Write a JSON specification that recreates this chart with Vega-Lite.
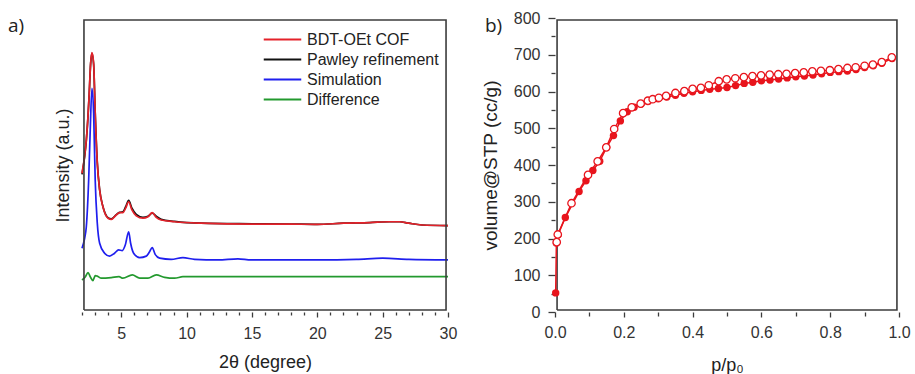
{
  "$schema": "https://vega.github.io/schema/vega-lite/v6.json",
  "autosize": {"type": "pad"},
  "padding": {"left": 8, "top": 10, "right": 0, "bottom": 0},
  "spacing": 24,
  "config": {
    "font": "Liberation Sans",
    "view": {"stroke": null},
    "axis": {
      "domain": false, "grid": false,
      "labelColor": "#333333", "labelFontSize": 16, "labelFont": "Liberation Sans",
      "titleColor": "#222222", "titleFontSize": 18, "titleFontWeight": "normal", "titleFont": "Liberation Sans",
      "tickColor": "#3c3c3c", "tickWidth": 1.3, "labelFlush": false, "labelOverlap": false
    },
    "title": {"fontWeight": "normal", "color": "#222222", "font": "Open Sans", "fontSize": 19}
  },
  "datasets": {
    "xrd": [
      {"t": 2.0, "i": 46.8, "s": "Pawley refinement"},
      {"t": 2.2, "i": 52.8, "s": "Pawley refinement"},
      {"t": 2.33, "i": 58.3, "s": "Pawley refinement"},
      {"t": 2.45, "i": 65.8, "s": "Pawley refinement"},
      {"t": 2.54, "i": 73.0, "s": "Pawley refinement"},
      {"t": 2.66, "i": 84.4, "s": "Pawley refinement"},
      {"t": 2.76, "i": 88.0, "s": "Pawley refinement"},
      {"t": 2.89, "i": 84.2, "s": "Pawley refinement"},
      {"t": 3.01, "i": 67.8, "s": "Pawley refinement"},
      {"t": 3.17, "i": 50.9, "s": "Pawley refinement"},
      {"t": 3.35, "i": 41.6, "s": "Pawley refinement"},
      {"t": 3.6, "i": 35.9, "s": "Pawley refinement"},
      {"t": 3.99, "i": 32.1, "s": "Pawley refinement"},
      {"t": 4.24, "i": 31.7, "s": "Pawley refinement"},
      {"t": 4.62, "i": 33.1, "s": "Pawley refinement"},
      {"t": 4.88, "i": 33.9, "s": "Pawley refinement"},
      {"t": 5.13, "i": 34.1, "s": "Pawley refinement"},
      {"t": 5.34, "i": 35.8, "s": "Pawley refinement"},
      {"t": 5.57, "i": 38.0, "s": "Pawley refinement"},
      {"t": 5.82, "i": 35.3, "s": "Pawley refinement"},
      {"t": 6.15, "i": 33.2, "s": "Pawley refinement"},
      {"t": 6.66, "i": 32.2, "s": "Pawley refinement"},
      {"t": 7.05, "i": 32.6, "s": "Pawley refinement"},
      {"t": 7.37, "i": 33.6, "s": "Pawley refinement"},
      {"t": 7.68, "i": 32.6, "s": "Pawley refinement"},
      {"t": 8.06, "i": 31.5, "s": "Pawley refinement"},
      {"t": 9.08, "i": 30.8, "s": "Pawley refinement"},
      {"t": 11.12, "i": 30.2, "s": "Pawley refinement"},
      {"t": 15, "i": 30.0, "s": "Pawley refinement"},
      {"t": 18, "i": 29.9, "s": "Pawley refinement"},
      {"t": 20, "i": 29.8, "s": "Pawley refinement"},
      {"t": 22, "i": 30.2, "s": "Pawley refinement"},
      {"t": 24, "i": 30.4, "s": "Pawley refinement"},
      {"t": 25.5, "i": 30.7, "s": "Pawley refinement"},
      {"t": 26.3, "i": 30.7, "s": "Pawley refinement"},
      {"t": 27, "i": 30.2, "s": "Pawley refinement"},
      {"t": 28, "i": 29.6, "s": "Pawley refinement"},
      {"t": 30, "i": 29.4, "s": "Pawley refinement"},

      {"t": 2.0, "i": 47.2, "s": "BDT-OEt COF"},
      {"t": 2.2, "i": 53.0, "s": "BDT-OEt COF"},
      {"t": 2.33, "i": 58.5, "s": "BDT-OEt COF"},
      {"t": 2.45, "i": 66.0, "s": "BDT-OEt COF"},
      {"t": 2.54, "i": 73.2, "s": "BDT-OEt COF"},
      {"t": 2.66, "i": 84.6, "s": "BDT-OEt COF"},
      {"t": 2.76, "i": 88.2, "s": "BDT-OEt COF"},
      {"t": 2.89, "i": 84.6, "s": "BDT-OEt COF"},
      {"t": 3.01, "i": 67.6, "s": "BDT-OEt COF"},
      {"t": 3.17, "i": 50.6, "s": "BDT-OEt COF"},
      {"t": 3.35, "i": 41.5, "s": "BDT-OEt COF"},
      {"t": 3.6, "i": 35.8, "s": "BDT-OEt COF"},
      {"t": 3.99, "i": 31.9, "s": "BDT-OEt COF"},
      {"t": 4.24, "i": 31.5, "s": "BDT-OEt COF"},
      {"t": 4.62, "i": 33.0, "s": "BDT-OEt COF"},
      {"t": 4.88, "i": 33.8, "s": "BDT-OEt COF"},
      {"t": 5.13, "i": 33.8, "s": "BDT-OEt COF"},
      {"t": 5.34, "i": 35.3, "s": "BDT-OEt COF"},
      {"t": 5.57, "i": 37.5, "s": "BDT-OEt COF"},
      {"t": 5.82, "i": 34.7, "s": "BDT-OEt COF"},
      {"t": 6.15, "i": 32.7, "s": "BDT-OEt COF"},
      {"t": 6.66, "i": 31.9, "s": "BDT-OEt COF"},
      {"t": 7.05, "i": 32.4, "s": "BDT-OEt COF"},
      {"t": 7.37, "i": 33.8, "s": "BDT-OEt COF"},
      {"t": 7.68, "i": 32.2, "s": "BDT-OEt COF"},
      {"t": 8.06, "i": 31.3, "s": "BDT-OEt COF"},
      {"t": 9.08, "i": 30.7, "s": "BDT-OEt COF"},
      {"t": 11.12, "i": 30.2, "s": "BDT-OEt COF"},
      {"t": 15, "i": 29.9, "s": "BDT-OEt COF"},
      {"t": 18, "i": 29.9, "s": "BDT-OEt COF"},
      {"t": 20, "i": 29.8, "s": "BDT-OEt COF"},
      {"t": 22, "i": 30.2, "s": "BDT-OEt COF"},
      {"t": 24, "i": 30.4, "s": "BDT-OEt COF"},
      {"t": 25.5, "i": 30.7, "s": "BDT-OEt COF"},
      {"t": 26.3, "i": 30.7, "s": "BDT-OEt COF"},
      {"t": 27, "i": 30.2, "s": "BDT-OEt COF"},
      {"t": 28, "i": 29.6, "s": "BDT-OEt COF"},
      {"t": 30, "i": 29.4, "s": "BDT-OEt COF"},

      {"t": 2.0, "i": 21.7, "s": "Simulation"},
      {"t": 2.2, "i": 25.0, "s": "Simulation"},
      {"t": 2.33, "i": 29.0, "s": "Simulation"},
      {"t": 2.51, "i": 44.9, "s": "Simulation"},
      {"t": 2.63, "i": 61.9, "s": "Simulation"},
      {"t": 2.76, "i": 76.1, "s": "Simulation"},
      {"t": 2.89, "i": 67.6, "s": "Simulation"},
      {"t": 3.01, "i": 44.9, "s": "Simulation"},
      {"t": 3.17, "i": 30.2, "s": "Simulation"},
      {"t": 3.35, "i": 23.4, "s": "Simulation"},
      {"t": 3.73, "i": 20.0, "s": "Simulation"},
      {"t": 4.11, "i": 19.0, "s": "Simulation"},
      {"t": 4.49, "i": 20.0, "s": "Simulation"},
      {"t": 4.8, "i": 21.1, "s": "Simulation"},
      {"t": 5.08, "i": 20.9, "s": "Simulation"},
      {"t": 5.31, "i": 22.8, "s": "Simulation"},
      {"t": 5.57, "i": 27.3, "s": "Simulation"},
      {"t": 5.72, "i": 23.4, "s": "Simulation"},
      {"t": 5.95, "i": 20.0, "s": "Simulation"},
      {"t": 6.41, "i": 18.5, "s": "Simulation"},
      {"t": 6.92, "i": 19.0, "s": "Simulation"},
      {"t": 7.17, "i": 20.5, "s": "Simulation"},
      {"t": 7.37, "i": 21.9, "s": "Simulation"},
      {"t": 7.6, "i": 19.6, "s": "Simulation"},
      {"t": 7.94, "i": 18.3, "s": "Simulation"},
      {"t": 8.82, "i": 17.9, "s": "Simulation"},
      {"t": 9.72, "i": 18.5, "s": "Simulation"},
      {"t": 10.61, "i": 17.9, "s": "Simulation"},
      {"t": 12.4, "i": 17.7, "s": "Simulation"},
      {"t": 13.93, "i": 18.1, "s": "Simulation"},
      {"t": 14.95, "i": 17.7, "s": "Simulation"},
      {"t": 20, "i": 17.7, "s": "Simulation"},
      {"t": 23, "i": 17.9, "s": "Simulation"},
      {"t": 25, "i": 18.3, "s": "Simulation"},
      {"t": 27, "i": 17.9, "s": "Simulation"},
      {"t": 30, "i": 17.7, "s": "Simulation"},

      {"t": 2.0, "i": 10.9, "s": "Difference"},
      {"t": 2.26, "i": 12.0, "s": "Difference"},
      {"t": 2.46, "i": 13.4, "s": "Difference"},
      {"t": 2.63, "i": 12.0, "s": "Difference"},
      {"t": 2.84, "i": 10.7, "s": "Difference"},
      {"t": 3.01, "i": 12.4, "s": "Difference"},
      {"t": 3.17, "i": 12.2, "s": "Difference"},
      {"t": 3.48, "i": 11.5, "s": "Difference"},
      {"t": 4.24, "i": 11.7, "s": "Difference"},
      {"t": 4.83, "i": 12.0, "s": "Difference"},
      {"t": 5.13, "i": 11.5, "s": "Difference"},
      {"t": 5.85, "i": 12.6, "s": "Difference"},
      {"t": 6.41, "i": 11.5, "s": "Difference"},
      {"t": 7.05, "i": 11.5, "s": "Difference"},
      {"t": 7.68, "i": 12.6, "s": "Difference"},
      {"t": 8.32, "i": 11.8, "s": "Difference"},
      {"t": 9.08, "i": 11.5, "s": "Difference"},
      {"t": 9.72, "i": 12.0, "s": "Difference"},
      {"t": 12, "i": 12.0, "s": "Difference"},
      {"t": 20, "i": 12.0, "s": "Difference"},
      {"t": 30, "i": 12.0, "s": "Difference"}
    ],
    "iso": [
      {"p": 0.002, "v": 52, "b": "adsorption"},
      {"p": 0.004, "v": 188, "b": "adsorption"},
      {"p": 0.009, "v": 210, "b": "adsorption"},
      {"p": 0.03, "v": 257, "b": "adsorption"},
      {"p": 0.07, "v": 328, "b": "adsorption"},
      {"p": 0.09, "v": 357, "b": "adsorption"},
      {"p": 0.11, "v": 385, "b": "adsorption"},
      {"p": 0.13, "v": 410, "b": "adsorption"},
      {"p": 0.15, "v": 448, "b": "adsorption"},
      {"p": 0.17, "v": 480, "b": "adsorption"},
      {"p": 0.19, "v": 520, "b": "adsorption"},
      {"p": 0.21, "v": 545, "b": "adsorption"},
      {"p": 0.23, "v": 557, "b": "adsorption"},
      {"p": 0.25, "v": 566, "b": "adsorption"},
      {"p": 0.27, "v": 573, "b": "adsorption"},
      {"p": 0.3, "v": 580, "b": "adsorption"},
      {"p": 0.325, "v": 585, "b": "adsorption"},
      {"p": 0.35, "v": 590, "b": "adsorption"},
      {"p": 0.375, "v": 595, "b": "adsorption"},
      {"p": 0.4, "v": 599, "b": "adsorption"},
      {"p": 0.425, "v": 603, "b": "adsorption"},
      {"p": 0.45, "v": 606, "b": "adsorption"},
      {"p": 0.475, "v": 608, "b": "adsorption"},
      {"p": 0.5, "v": 611, "b": "adsorption"},
      {"p": 0.525, "v": 616, "b": "adsorption"},
      {"p": 0.55, "v": 622, "b": "adsorption"},
      {"p": 0.575, "v": 625, "b": "adsorption"},
      {"p": 0.6, "v": 629, "b": "adsorption"},
      {"p": 0.625, "v": 631, "b": "adsorption"},
      {"p": 0.65, "v": 634, "b": "adsorption"},
      {"p": 0.675, "v": 637, "b": "adsorption"},
      {"p": 0.7, "v": 640, "b": "adsorption"},
      {"p": 0.725, "v": 642, "b": "adsorption"},
      {"p": 0.75, "v": 645, "b": "adsorption"},
      {"p": 0.775, "v": 648, "b": "adsorption"},
      {"p": 0.8, "v": 652, "b": "adsorption"},
      {"p": 0.825, "v": 654, "b": "adsorption"},
      {"p": 0.85, "v": 656, "b": "adsorption"},
      {"p": 0.875, "v": 660, "b": "adsorption"},
      {"p": 0.9, "v": 665, "b": "adsorption"},
      {"p": 0.925, "v": 670, "b": "adsorption"},
      {"p": 0.95, "v": 677, "b": "adsorption"},
      {"p": 0.98, "v": 690, "b": "adsorption"},

      {"p": 0.005, "v": 190, "b": "desorption"},
      {"p": 0.008, "v": 211, "b": "desorption"},
      {"p": 0.048, "v": 296, "b": "desorption"},
      {"p": 0.096, "v": 373, "b": "desorption"},
      {"p": 0.124, "v": 410, "b": "desorption"},
      {"p": 0.149, "v": 448, "b": "desorption"},
      {"p": 0.172, "v": 498, "b": "desorption"},
      {"p": 0.198, "v": 541, "b": "desorption"},
      {"p": 0.223, "v": 557, "b": "desorption"},
      {"p": 0.249, "v": 567, "b": "desorption"},
      {"p": 0.27, "v": 575, "b": "desorption"},
      {"p": 0.284, "v": 579, "b": "desorption"},
      {"p": 0.302, "v": 583, "b": "desorption"},
      {"p": 0.323, "v": 588, "b": "desorption"},
      {"p": 0.35, "v": 596, "b": "desorption"},
      {"p": 0.376, "v": 601, "b": "desorption"},
      {"p": 0.4, "v": 607, "b": "desorption"},
      {"p": 0.424, "v": 610, "b": "desorption"},
      {"p": 0.447, "v": 617, "b": "desorption"},
      {"p": 0.476, "v": 628, "b": "desorption"},
      {"p": 0.499, "v": 633, "b": "desorption"},
      {"p": 0.524, "v": 636, "b": "desorption"},
      {"p": 0.549, "v": 639, "b": "desorption"},
      {"p": 0.574, "v": 642, "b": "desorption"},
      {"p": 0.599, "v": 644, "b": "desorption"},
      {"p": 0.624, "v": 646, "b": "desorption"},
      {"p": 0.649, "v": 647, "b": "desorption"},
      {"p": 0.673, "v": 648, "b": "desorption"},
      {"p": 0.698, "v": 650, "b": "desorption"},
      {"p": 0.723, "v": 652, "b": "desorption"},
      {"p": 0.748, "v": 655, "b": "desorption"},
      {"p": 0.773, "v": 656, "b": "desorption"},
      {"p": 0.799, "v": 658, "b": "desorption"},
      {"p": 0.824, "v": 661, "b": "desorption"},
      {"p": 0.85, "v": 664, "b": "desorption"},
      {"p": 0.874, "v": 666, "b": "desorption"},
      {"p": 0.9, "v": 670, "b": "desorption"},
      {"p": 0.924, "v": 673, "b": "desorption"},
      {"p": 0.95, "v": 680, "b": "desorption"},
      {"p": 0.979, "v": 693, "b": "desorption"}
    ],
    "frameL": [
      {"t": 2.15, "i": 0.7, "o": 1},
      {"t": 29.85, "i": 0.7, "o": 2},
      {"t": 29.85, "i": 99.3, "o": 3},
      {"t": 2.15, "i": 99.3, "o": 4},
      {"t": 2.15, "i": 0.7, "o": 5}
    ],
    "frameR": [
      {"p": 0.006, "v": 5.5, "o": 1},
      {"p": 0.994, "v": 5.5, "o": 2},
      {"p": 0.994, "v": 794.5, "o": 3},
      {"p": 0.006, "v": 794.5, "o": 4},
      {"p": 0.006, "v": 5.5, "o": 5}
    ]
  },
  "hconcat": [
    {
      "width": 366,
      "height": 294,
      "title": {"text": "a)", "anchor": "start", "frame": "group", "dx": -74, "dy": 19, "offset": 0, "baseline": "top"},
      "encoding": {
        "x": {
          "field": "t", "type": "quantitative",
          "scale": {"domain": [2, 30], "nice": false, "zero": false},
          "axis": {
            "title": "2θ (degree)",
            "values": [2,3,4,5,6,7,8,9,10,11,12,13,14,15,16,17,18,19,20,21,22,23,24,25,26,27,28,29,30],
            "labelExpr": "datum.value % 5 === 0 ? datum.label : ''",
            "tickSize": {"condition": {"test": "datum.value % 5 === 0", "value": 5}, "value": 3},
            "labelPadding": 8,
            "titlePadding": 12
          }
        },
        "y": {
          "field": "i", "type": "quantitative",
          "scale": {"domain": [0, 100], "nice": false},
          "axis": {"title": "Intensity (a.u.)", "labels": false, "ticks": false, "titlePadding": 10}
        }
      },
      "layer": [
        {
          "data": {"name": "xrd"},
          "transform": [{"filter": "datum.s === 'Pawley refinement'"}],
          "mark": {"type": "line", "strokeWidth": 1.7, "interpolate": "monotone"},
          "encoding": {
            "color": {
              "field": "s", "type": "nominal",
              "scale": {
                "domain": ["BDT-OEt COF", "Pawley refinement", "Simulation", "Difference"],
                "range": ["#e4222a", "#111111", "#1f1fee", "#23992e"]
              },
              "legend": {
                "title": null, "orient": "none", "legendX": 192, "legendY": 13,
                "labelFontSize": 16, "labelColor": "#222222", "labelFont": "Liberation Sans",
                "symbolType": "M-2.5,0H2.5", "symbolSize": 225, "symbolStrokeWidth": 2,
                "labelOffset": 16, "rowPadding": 3, "padding": 0
              }
            }
          }
        },
        {
          "data": {"name": "xrd"},
          "transform": [{"filter": "datum.s !== 'Pawley refinement'"}],
          "mark": {"type": "line", "strokeWidth": 1.7, "interpolate": "monotone"},
          "encoding": {
            "color": {"field": "s", "type": "nominal"}
          }
        },
        {
          "data": {"name": "frameL"},
          "mark": {"type": "line", "color": "#3c3c3c", "strokeWidth": 1.6, "interpolate": "linear"},
          "encoding": {
            "order": {"field": "o", "type": "quantitative"}
          }
        }
      ]
    },
    {
      "width": 344,
      "height": 294,
      "title": {"text": "b)", "anchor": "start", "frame": "group", "dx": -70, "dy": 26, "offset": 0, "baseline": "top"},
      "encoding": {
        "x": {
          "field": "p", "type": "quantitative",
          "scale": {"domain": [0, 1], "nice": false},
          "axis": {
            "title": "p/p₀",
            "values": [0, 0.1, 0.2, 0.3, 0.4, 0.5, 0.6, 0.7, 0.8, 0.9, 1.0],
            "labelExpr": "round(datum.value * 10) % 2 === 0 ? format(datum.value, '.1f') : ''",
            "tickSize": {"condition": {"test": "round(datum.value * 10) % 2 === 0", "value": 5}, "value": 4},
            "labelPadding": 7,
            "titlePadding": 16
          }
        },
        "y": {
          "field": "v", "type": "quantitative",
          "scale": {"domain": [0, 800], "nice": false},
          "axis": {
            "title": "volume@STP (cc/g)",
            "titleFontSize": 19,
            "values": [0, 50, 100, 150, 200, 250, 300, 350, 400, 450, 500, 550, 600, 650, 700, 750, 800],
            "labelExpr": "datum.value % 100 === 0 ? datum.label : ''",
            "tickSize": {"condition": {"test": "datum.value % 100 === 0", "value": 7}, "value": 4},
            "labelPadding": 8,
            "titlePadding": 13
          }
        }
      },
      "layer": [
        {
          "data": {"name": "frameR"},
          "mark": {"type": "line", "color": "#3c3c3c", "strokeWidth": 1.6, "interpolate": "linear"},
          "encoding": {
            "order": {"field": "o", "type": "quantitative"}
          }
        },
        {
          "data": {"name": "iso"},
          "mark": {"type": "line", "color": "#e8141c", "strokeWidth": 1.5},
          "encoding": {"detail": {"field": "b"}}
        },
        {
          "data": {"name": "iso"},
          "transform": [{"filter": "datum.b === 'adsorption'"}],
          "mark": {"type": "point", "shape": "circle", "filled": true, "color": "#e8141c", "size": 55, "opacity": 1}
        },
        {
          "data": {"name": "iso"},
          "transform": [{"filter": "datum.b === 'desorption'"}],
          "mark": {"type": "point", "shape": "circle", "filled": false, "fill": "#ffffff", "fillOpacity": 1, "stroke": "#e8141c", "strokeWidth": 1.3, "size": 55, "opacity": 1}
        }
      ]
    }
  ]
}
